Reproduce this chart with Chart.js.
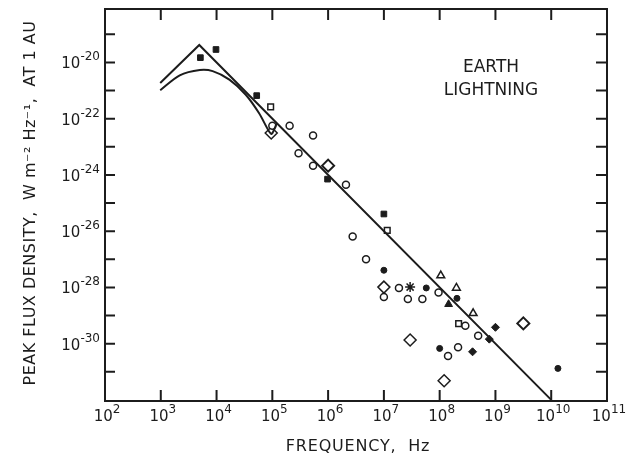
<!DOCTYPE html>
<html>
<head>
<meta charset="utf-8">
<script src="https://cdn.jsdelivr.net/npm/chart.js@4.4.0/dist/chart.umd.min.js"></script>
<style>
  html, body { margin: 0; padding: 0; background: #fff; }
  canvas { display: block; }
</style>
</head>
<body>
<canvas id="Lightning" width="629" height="460"></canvas>
<script>
// all values as [log10 frequency (Hz), log10 peak flux density]
var xLabelDecades = [2, 3, 4, 5, 6, 7, 8, 9, 10, 11];
var xTickDecades = [3, 4, 5, 6, 7, 8, 9, 10];
var yLabelDecades = [-20, -22, -24, -26, -28, -30];
var yTickDecades = [-19, -20, -21, -22, -23, -24, -25, -26, -27, -28, -29, -30, -31];

var upperLine = [[2.99, -20.73], [3.69, -19.38], [10.0, -32.0]];
var lowerLine = [[2.99, -20.99], [3.34, -20.46], [3.70, -20.27], [3.93, -20.31], [4.23, -20.61],
                 [4.52, -21.14], [4.76, -21.80], [4.94, -22.45], [4.99, -22.54], [5.08, -22.16]];

var filledSquares = [[3.71, -19.83], [3.99, -19.54], [4.72, -21.18], [5.99, -24.15], [7.0, -25.39]];
var openSquares = [[4.97, -21.58], [7.06, -25.97], [8.34, -29.29]];
var openCircles = [[5.0, -22.25], [5.31, -22.25], [5.73, -22.60], [5.47, -23.23], [5.73, -23.67],
                   [6.32, -24.35], [6.44, -26.19], [6.68, -27.0], [7.27, -28.02], [7.0, -28.34],
                   [7.43, -28.41], [7.69, -28.41], [7.98, -28.18], [8.46, -29.36], [8.69, -29.72],
                   [8.33, -30.13], [8.15, -30.44]];
var filledCircles = [[7.0, -27.39], [7.76, -28.02], [8.31, -28.39], [8.0, -30.17], [10.12, -30.88]];
var openTriangles = [[8.02, -27.58], [8.30, -28.02], [8.60, -28.92]];
var filledTriangles = [[8.16, -28.6]];
var stars = [[7.47, -27.99]];
var openDiamonds = [[4.98, -22.51], [7.0, -27.99], [7.47, -29.87], [8.08, -31.32]];
var dottedDiamonds = [[6.0, -23.67], [9.5, -29.28]];
var filledDiamonds = [[9.0, -29.42], [8.89, -29.84], [8.59, -30.29]];

var INK = '#1c1c1c';
var FONT = '"DejaVu Sans", sans-serif';

function pts(arr) {
  return arr.map(function (p) { return { x: Math.pow(10, p[0]), y: Math.pow(10, p[1]) }; });
}

function marks(arr, style, radius, filled, width) {
  return {
    data: pts(arr),
    pointStyle: style,
    pointRadius: radius,
    pointBorderWidth: width || 1.5,
    pointBorderColor: INK,
    pointBackgroundColor: filled ? INK : '#fff',
    showLine: false
  };
}

function curve(arr, tension) {
  return {
    data: pts(arr),
    showLine: true,
    borderColor: INK,
    borderWidth: 2,
    pointRadius: 0,
    fill: false,
    tension: tension || 0
  };
}

// "10" with a raised exponent
function drawPow(ctx, exp, x, y, align) {
  var big = '15px ' + FONT, small = '12px ' + FONT;
  ctx.font = big;
  var wb = ctx.measureText('10').width;
  ctx.font = small;
  var we = ctx.measureText(exp).width;
  var left = align === 'right' ? x - wb - we : x - (wb + we) / 2;
  ctx.textAlign = 'left';
  ctx.textBaseline = 'alphabetic';
  ctx.font = big;
  ctx.fillText('10', left, y);
  ctx.font = small;
  ctx.fillText(exp, left + wb, y - 8);
}

var frame = {
  id: 'frame',
  afterDraw: function (chart) {
    var ctx = chart.ctx, a = chart.chartArea;
    var xs = chart.scales.x, ys = chart.scales.y;
    ctx.save();
    ctx.strokeStyle = INK;
    ctx.fillStyle = INK;
    ctx.lineWidth = 2;
    ctx.strokeRect(a.left, a.top, a.right - a.left, a.bottom - a.top);

    ctx.beginPath();
    xTickDecades.forEach(function (d) {
      var px = xs.getPixelForValue(Math.pow(10, d));
      ctx.moveTo(px, a.bottom); ctx.lineTo(px, a.bottom - 11);
      ctx.moveTo(px, a.top); ctx.lineTo(px, a.top + 11);
    });
    yTickDecades.forEach(function (d) {
      var py = ys.getPixelForValue(Math.pow(10, d));
      ctx.moveTo(a.left, py); ctx.lineTo(a.left + 10, py);
      ctx.moveTo(a.right, py); ctx.lineTo(a.right - 11, py);
    });
    ctx.stroke();

    xLabelDecades.forEach(function (d) {
      drawPow(ctx, String(d), xs.getPixelForValue(Math.pow(10, d)) + 2, a.bottom + 20, 'center');
    });
    yLabelDecades.forEach(function (d) {
      drawPow(ctx, String(d), a.left - 5, ys.getPixelForValue(Math.pow(10, d)) + 6, 'right');
    });

    ctx.textAlign = 'center';
    ctx.textBaseline = 'middle';
    ctx.font = '17px ' + FONT;
    ctx.fillText('EARTH', 491, 68);
    ctx.fillText('LIGHTNING', 491, 91);

    ctx.font = '16px ' + FONT;
    ctx.letterSpacing = '0.8px';
    ctx.fillText('FREQUENCY,  Hz', 358, 447);

    ctx.letterSpacing = '0.5px';
    ctx.translate(31, 203);
    ctx.rotate(-Math.PI / 2);
    ctx.fillText('PEAK FLUX DENSITY,  W m\u207B\u00B2 Hz\u207B\u00B9,  AT 1 AU', 0, 0);
    ctx.restore();
  }
};

new Chart(document.getElementById('Lightning'), {
  type: 'scatter',
  data: {
    datasets: [
      curve(upperLine),
      curve(lowerLine, 0.3),
      marks(filledSquares, 'rect', 4, true, 1),
      marks(openSquares, 'rect', 4, false),
      marks(openCircles, 'circle', 3.5, false),
      marks(filledCircles, 'circle', 3, true, 1),
      marks(openTriangles, 'triangle', 4.5, false),
      marks(filledTriangles, 'triangle', 4.5, true, 1),
      marks(stars, 'star', 5, false, 1.5),
      marks(openDiamonds, 'rectRot', 6, false),
      marks(dottedDiamonds, 'rectRot', 6, false, 2),
      marks(dottedDiamonds, 'circle', 2, true, 1),
      marks(filledDiamonds, 'rectRot', 4, true, 1)
    ]
  },
  options: {
    responsive: false,
    animation: false,
    events: [],
    layout: { padding: { left: 105, right: 22, top: 9, bottom: 59 } },
    scales: {
      x: { type: 'logarithmic', min: 1e2, max: 1e11, display: false },
      y: { type: 'logarithmic', min: Math.pow(10, -32.04), max: Math.pow(10, -18.1), display: false }
    },
    plugins: { legend: { display: false }, tooltip: { enabled: false } }
  },
  plugins: [frame]
});
</script>
</body>
</html>
